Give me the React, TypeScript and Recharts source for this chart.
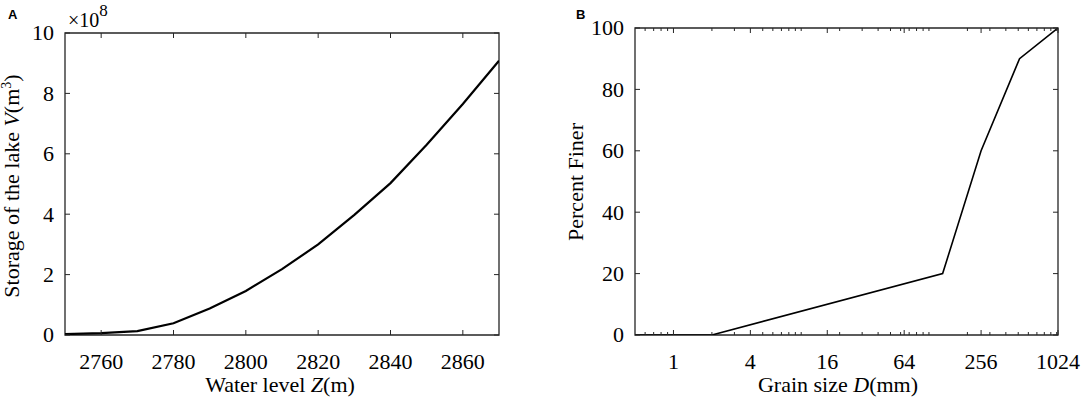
import React from "react";
import { LineChart, Line, XAxis, YAxis, ReferenceArea } from "recharts";

// ---------- Panel A data ----------
const waterLevel = [2750, 2760, 2770, 2780, 2790, 2800, 2810, 2820, 2830, 2840, 2850, 2860, 2870];
const lakeStorage = [0.03e8, 0.06e8, 0.13e8, 0.39e8, 0.88e8, 1.46e8, 2.18e8, 3.0e8, 3.98e8, 5.03e8, 6.3e8, 7.65e8, 9.08e8];
const levelTicks = [2760, 2780, 2800, 2820, 2840, 2860];
const storageTicks = [0, 2e8, 4e8, 6e8, 8e8, 10e8];

// ---------- Panel B data ----------
const grainSize = [0.5, 2, 128, 256, 512, 1024];
const percentFiner = [0, 0, 20, 60, 90, 100];
const grainMajorTicks = [1, 4, 16, 64, 256, 1024];
const grainMinorTicks = [
  0.6, 0.7, 0.8, 0.9, 1, 2, 3, 4, 5, 6, 7, 8, 9, 10, 20, 30, 40, 50, 60, 70, 80, 90,
  100, 200, 300, 400, 500, 600, 700, 800, 900, 1000,
];
const percentTicks = [0, 20, 40, 60, 80, 100];

const dataA = waterLevel.map((z, i) => ({ z, v: lakeStorage[i] }));
const dataB = grainSize.map((d, i) => ({ d, p: percentFiner[i] }));
const grainTicks = Array.from(new Set([...grainMinorTicks, ...grainMajorTicks])).sort((a, b) => a - b);

const AX = "#262626";
const SERIF = "'Liberation Serif', 'Times New Roman', serif";
const FS = 22;
const serifStyle = { fontFamily: SERIF };

// plot frames (local to each chart's svg)
const FRAME_A = { top: 33, bottom: 335, left: 65, right: 499 };
const FRAME_B = { top: 28, bottom: 335, left: 95, right: 518 };

function makeXTick(frame: any, majors: number[] | null) {
  return (props: any) => {
    const { x, payload } = props;
    const v = payload.value;
    const isMajor = majors ? majors.includes(v) : true;
    const len = isMajor ? 5 : 3;
    return (
      <g>
        <line x1={x} x2={x} y1={frame.bottom} y2={frame.bottom - len} stroke={AX} strokeWidth={1} />
        <line x1={x} x2={x} y1={frame.top} y2={frame.top + len} stroke={AX} strokeWidth={1} />
        {isMajor ? (
          <text x={x} y={frame.bottom + 34} textAnchor="middle" style={serifStyle} fontFamily={SERIF} fontSize={FS} fill="#000">
            {v}
          </text>
        ) : null}
      </g>
    );
  };
}

function makeYTick(frame: any, fmt: (v: number) => string) {
  return (props: any) => {
    const { y, payload } = props;
    return (
      <g>
        <line x1={frame.left} x2={frame.left + 5} y1={y} y2={y} stroke={AX} strokeWidth={1} />
        <line x1={frame.right - 5} x2={frame.right} y1={y} y2={y} stroke={AX} strokeWidth={1} />
        <text x={frame.left - 11} y={y + 7.4} textAnchor="end" style={serifStyle} fontFamily={SERIF} fontSize={FS} fill="#000">
          {fmt(payload.value)}
        </text>
      </g>
    );
  };
}

function PanelA() {
  return (
    <LineChart
      width={540}
      height={402}
      data={dataA}
      margin={{ top: FRAME_A.top, right: 540 - FRAME_A.right, bottom: 0, left: 0 }}
      style={serifStyle}
    >
      <XAxis
        dataKey="z"
        type="number"
        domain={[2750, 2870]}
        ticks={levelTicks}
        interval={0}
        height={402 - FRAME_A.bottom}
        axisLine={false}
        tickLine={false}
        tickSize={0}
        tick={makeXTick(FRAME_A, null)}
        allowDataOverflow
      />
      <YAxis
        type="number"
        domain={[0, 10e8]}
        ticks={storageTicks}
        interval={0}
        width={FRAME_A.left}
        axisLine={false}
        tickLine={false}
        tickSize={0}
        tick={makeYTick(FRAME_A, (v) => String(Math.round(v / 1e8)))}
        allowDataOverflow
      />
      <ReferenceArea x1={2750} x2={2870} y1={0} y2={10e8} fill="none" stroke={AX} strokeWidth={1.3} />
      <Line
        type="linear"
        dataKey="v"
        stroke="#000"
        strokeWidth={2.2}
        dot={false}
        isAnimationActive={false}
      />
    </LineChart>
  );
}

function PanelB() {
  return (
    <LineChart
      width={544}
      height={402}
      data={dataB}
      margin={{ top: FRAME_B.top, right: 544 - FRAME_B.right, bottom: 0, left: 0 }}
      style={serifStyle}
    >
      <XAxis
        dataKey="d"
        type="number"
        scale="log"
        domain={[0.5, 1024]}
        ticks={grainTicks}
        interval={0}
        height={402 - FRAME_B.bottom}
        axisLine={false}
        tickLine={false}
        tickSize={0}
        tick={makeXTick(FRAME_B, grainMajorTicks)}
        allowDataOverflow
      />
      <YAxis
        type="number"
        domain={[0, 100]}
        ticks={percentTicks}
        interval={0}
        width={FRAME_B.left}
        axisLine={false}
        tickLine={false}
        tickSize={0}
        tick={makeYTick(FRAME_B, (v) => String(v))}
        allowDataOverflow
      />
      <ReferenceArea x1={0.5} x2={1024} y1={0} y2={100} fill="none" stroke={AX} strokeWidth={1.3} />
      <Line
        type="linear"
        dataKey="p"
        stroke="#000"
        strokeWidth={1.6}
        dot={false}
        isAnimationActive={false}
      />
    </LineChart>
  );
}

export default function App() {
  return (
    <div style={{ position: "absolute", left: 0, top: 0, width: 1084, height: 402, background: "#fff", fontFamily: SERIF }}>
      <div style={{ position: "absolute", left: 0, top: 0 }}>
        <PanelA />
      </div>
      <div style={{ position: "absolute", left: 540, top: 0 }}>
        <PanelB />
      </div>
      <svg
        width={1084}
        height={402}
        style={{ position: "absolute", left: 0, top: 0, pointerEvents: "none" }}
      >
        <text x={8} y={19} fontFamily="'Liberation Sans', Arial, sans-serif" fontWeight="bold" fontSize={13} fill="#000">
          A
        </text>
        <text x={576} y={19} fontFamily="'Liberation Sans', Arial, sans-serif" fontWeight="bold" fontSize={13} fill="#000">
          B
        </text>
        <text x={68} y={27} style={serifStyle} fontSize={20} fill="#000">
          ×10<tspan dy={-11} fontSize={17}>8</tspan>
        </text>
        <text
          x={19}
          y={186}
          transform="rotate(-90, 19, 186)"
          textAnchor="middle"
          style={serifStyle}
          fontSize={FS}
          fill="#000"
        >
          Storage of the lake <tspan fontStyle="italic">V</tspan>(m<tspan dy={-8} fontSize={14}>3</tspan>
          <tspan dy={8}>)</tspan>
        </text>
        <text x={280} y={392} textAnchor="middle" style={serifStyle} fontSize={FS} fill="#000">
          Water level <tspan fontStyle="italic">Z</tspan>(m)
        </text>
        <text
          x={583}
          y={182}
          transform="rotate(-90, 583, 182)"
          textAnchor="middle"
          style={serifStyle}
          fontSize={FS}
          fill="#000"
        >
          Percent Finer
        </text>
        <text x={838} y={392} textAnchor="middle" style={serifStyle} fontSize={FS} fill="#000">
          Grain size <tspan fontStyle="italic">D</tspan>(mm)
        </text>
      </svg>
    </div>
  );
}
